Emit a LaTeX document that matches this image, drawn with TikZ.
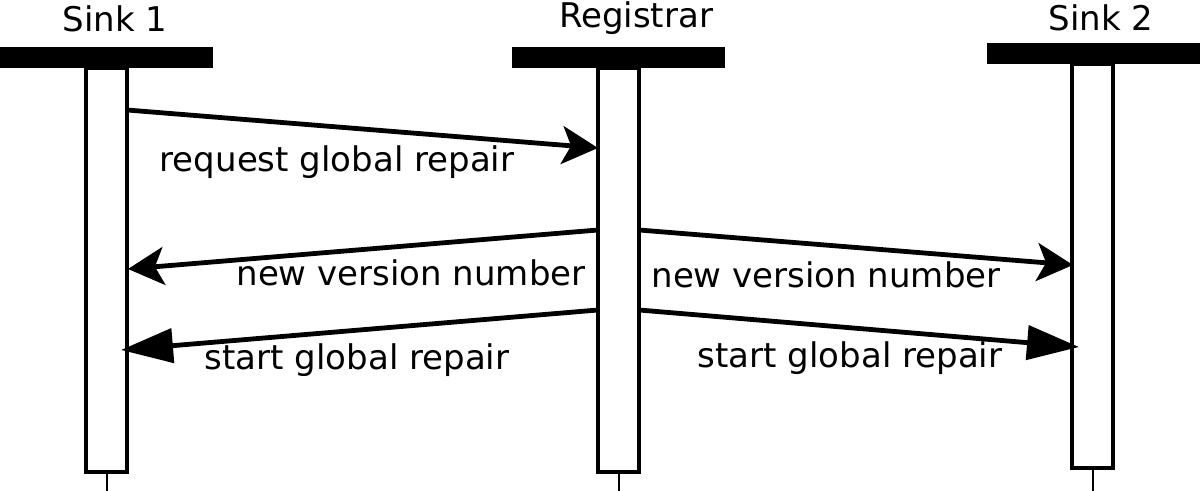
\documentclass[tikz,border=0pt]{standalone}
\usepackage{fontspec}
\setmainfont{DejaVu Sans}
\usetikzlibrary{arrows.meta}
\begin{document}
\begin{tikzpicture}[x=0.5pt,y=-0.5pt,
  lbl/.style={font=\fontsize{17}{20}\selectfont, inner sep=0pt},
  headbar/.style={fill=black, draw=none, inner sep=0pt, minimum width=106.5pt, minimum height=10.5pt},
  lifebox/.style={draw=black, line width=2pt, fill=white, inner sep=0pt, minimum width=20.5pt, outer sep=0pt},
  stub/.style={line width=1pt},
  msg/.style={line width=2.4pt, -{Stealth[length=18pt,width=19pt,inset=4.5pt]}},
  msgt/.style={line width=2.4pt, -{Triangle[length=26pt,width=17pt]}}]
\useasboundingbox (0,0) rectangle (1200,491);
% titles
\node[lbl] (t1) at (115,18.5) {Sink 1};
\node[lbl] (t2) at (636,18) {Registrar};
\node[lbl] (t3) at (1101,17.5) {Sink 2};
% bars
\node[headbar] (bar1) at (106.5,57.5) {};
\node[headbar] (bar2) at (618.5,58) {};
\node[headbar] (bar3) at (1093,53.5) {};
% lifeline boxes
\node[lifebox, minimum height=202pt] (b1) at (106.5,270) {};
\node[lifebox, minimum height=202pt] (b2) at (618.5,270) {};
\node[lifebox, minimum height=202pt] (b3) at (1092.5,266.5) {};
% stubs
\coordinate (e1) at (106.5,491);
\coordinate (e2) at (618.5,491);
\coordinate (e3) at (1092.5,491);
\draw[stub] (b1.south) -- (e1);
\draw[stub] (b2.south) -- (e2);
\draw[stub] (b3.south) -- (e3);
% message end points
\coordinate (m1s) at (127,110);  \coordinate (m1e) at (598,148);
\coordinate (m2s) at (598,230);  \coordinate (m2e) at (128,269);
\coordinate (m3s) at (639,230);  \coordinate (m3e) at (1073,265);
\coordinate (m4s) at (598,310);  \coordinate (m4e) at (121,350);
\coordinate (m5s) at (639,310);  \coordinate (m5e) at (1079,347);
\draw[msg] (m1s) -- (m1e);
\draw[msg] (m2s) -- (m2e);
\draw[msg] (m3s) -- (m3e);
\draw[msgt] (m4s) -- (m4e);
\draw[msgt] (m5s) -- (m5e);
% labels
\node[lbl] (l1) at (337,162) {request global repair};
\node[lbl] (l2) at (411,273) {new version number};
\node[lbl] (l3) at (826,275) {new version number};
\node[lbl] (l4) at (357,360) {start global repair};
\node[lbl] (l5) at (850,358) {start global repair};
\end{tikzpicture}
\end{document}
